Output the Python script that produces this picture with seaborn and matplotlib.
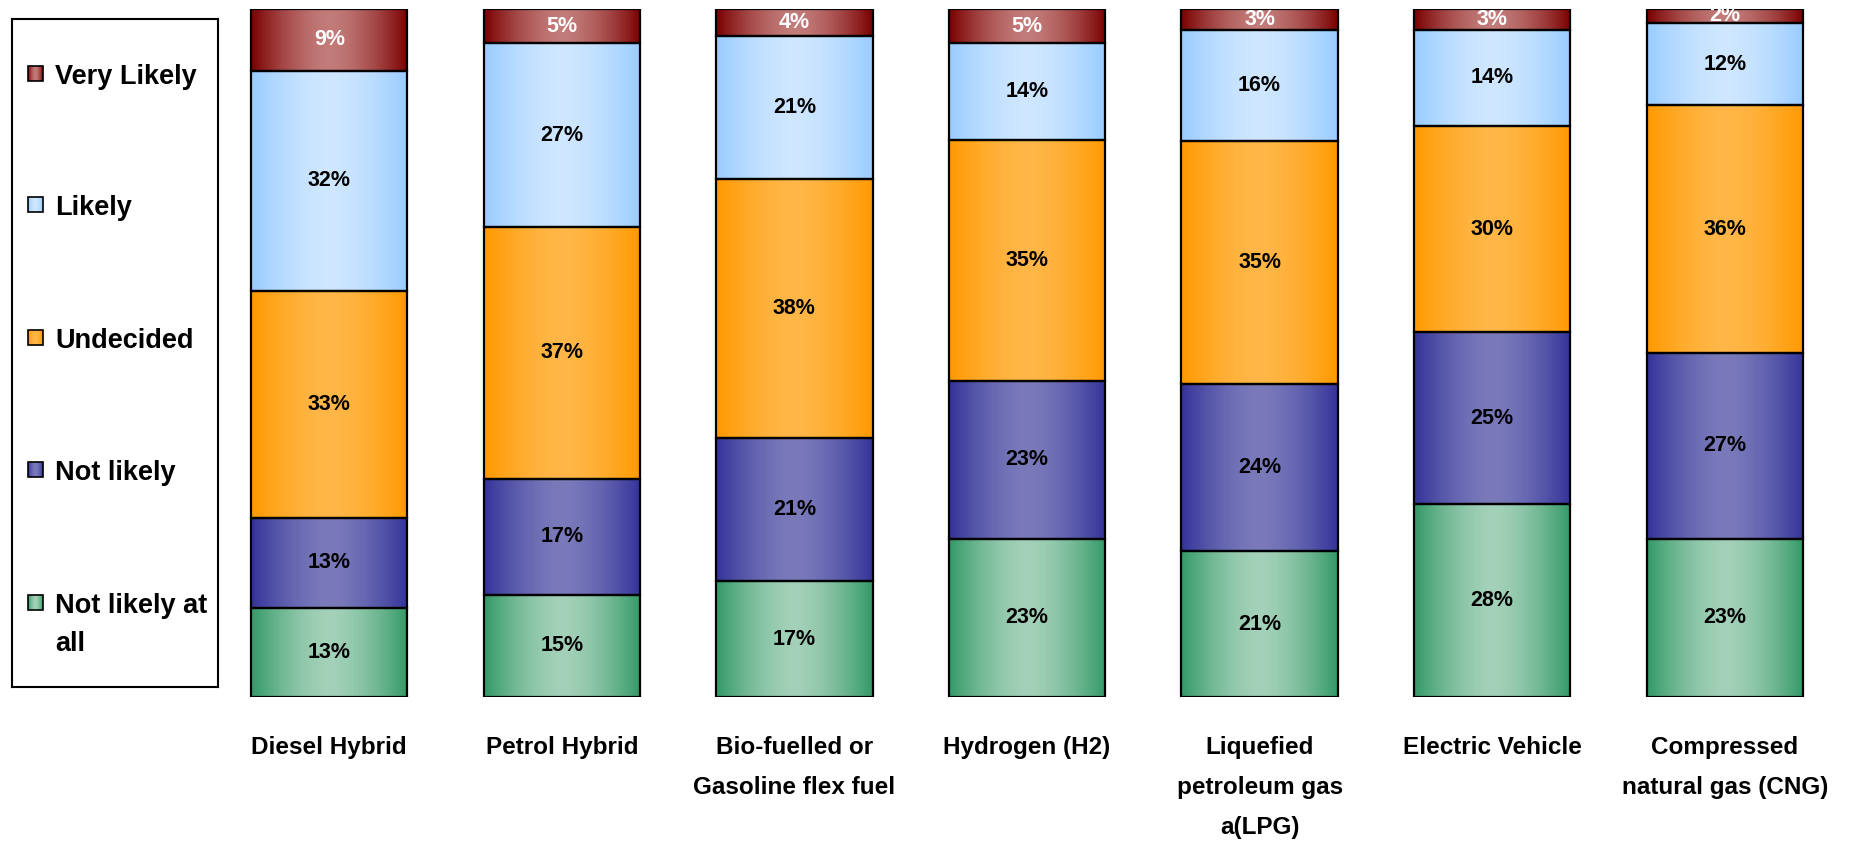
import numpy as np
import pandas as pd
import matplotlib
matplotlib.use("Agg")
import matplotlib.pyplot as plt
import seaborn as sns
from matplotlib.colors import to_rgb
from matplotlib.patches import Rectangle

# Survey data: share of respondents per fuel technology (%)
categories = [
    "Diesel Hybrid",
    "Petrol Hybrid",
    "Bio-fuelled or\nGasoline flex fuel",
    "Hydrogen (H2)",
    "Liquefied\npetroleum gas\na(LPG)",
    "Electric Vehicle",
    "Compressed\nnatural gas (CNG)",
]
not_likely_at_all = [13, 15, 17, 23, 21, 28, 23]
not_likely = [13, 17, 21, 23, 24, 25, 27]
undecided = [33, 37, 38, 35, 35, 30, 36]
likely = [32, 27, 21, 14, 16, 14, 12]
very_likely = [9, 5, 4, 5, 3, 3, 2]

series_names = ["Not likely at all", "Not likely", "Undecided", "Likely", "Very Likely"]
series_values = [not_likely_at_all, not_likely, undecided, likely, very_likely]

# (edge colour, centre highlight) for the horizontal shading of each series
series_shades = {
    "Not likely at all": ("#339966", "#a3d1b9"),
    "Not likely": ("#333399", "#7a7abb"),
    "Undecided": ("#ff9900", "#ffb748"),
    "Likely": ("#99ccff", "#cfe7ff"),
    "Very Likely": ("#7a0000", "#c27c7a"),
}
label_colors = {"Very Likely": "white"}

sns.set_style("white")
plt.rcParams["font.family"] = ["Liberation Sans", "DejaVu Sans"]
plt.rcParams["text.color"] = "black"
plt.rcParams["xtick.color"] = "black"

W, H = 1851, 843
fig = plt.figure(figsize=(W / 100, H / 100), dpi=100)

# main plotting area (pixel geometry converted to figure fractions)
ax_left, ax_right, ax_top, ax_bottom = 213, 1841, 9, 697
ax = fig.add_axes([ax_left / W, 1 - ax_bottom / H, (ax_right - ax_left) / W, (ax_bottom - ax_top) / H])

data = pd.DataFrame({name: vals for name, vals in zip(series_names, series_values)}, index=categories)
totals = data.sum(axis=1)
shares = data.div(totals, axis=0) * 100  # 100% stacked

def shade(edge, centre, n=256):
    t = np.linspace(0, 1, n)
    w = np.clip(1 - np.abs((t - 0.5) / 0.5) ** 1.6, 0, 1)
    e = np.array(to_rgb(edge))
    c = np.array(to_rgb(centre))
    return (e[None, :] * (1 - w[:, None]) + c[None, :] * w[:, None])[None, :, :]

bottom = np.zeros(len(categories))
for name in series_names:
    heights = shares[name].to_numpy()
    n_before = len(ax.patches)
    sns.barplot(x=categories, y=heights, bottom=bottom, order=categories,
                color=series_shades[name][0], saturation=1, width=0.672,
                edgecolor="black", linewidth=1.6, errorbar=None, ax=ax)
    new_patches = ax.patches[n_before:]
    grad = shade(*series_shades[name])
    for i, p in enumerate(new_patches):
        x0, y0 = p.get_x(), p.get_y()
        w, h = p.get_width(), p.get_height()
        p.set_facecolor("none")
        p.set_zorder(3)
        im = ax.imshow(grad, extent=[x0, x0 + w, y0, y0 + h], aspect="auto",
                       interpolation="bilinear", zorder=2)
        im.set_clip_path(p)
        ax.text(x0 + w / 2, y0 + h / 2, f"{int(data[name].iloc[i])}%",
                ha="center", va="center", fontsize=15.5, fontweight="bold",
                color=label_colors.get(name, "black"), zorder=5)
    bottom = bottom + heights

ax.set_xlim(-0.5, len(categories) - 0.5)
ax.set_ylim(0, 100)
ax.set_yticks([])
ax.set_xticks(range(len(categories)))
ax.set_xticklabels(categories, fontsize=17.5, fontweight="bold", linespacing=1.95, color="black")
ax.tick_params(axis="x", length=0, pad=28)
for s in ax.spines.values():
    s.set_visible(False)
ax.set_xlabel("")
ax.set_ylabel("")

# legend panel
lg_left, lg_right, lg_top, lg_bottom = 12, 218, 19, 687
lax = fig.add_axes([lg_left / W, 1 - lg_bottom / H, (lg_right - lg_left) / W, (lg_bottom - lg_top) / H])
lax.set_xlim(0, lg_right - lg_left)
lax.set_ylim(lg_bottom - lg_top, 0)
lax.set_xticks([])
lax.set_yticks([])
for s in lax.spines.values():
    s.set_visible(True)
    s.set_color("black")
    s.set_linewidth(1.5)

legend_rows = {"Very Likely": 55, "Likely": 186, "Undecided": 319, "Not likely": 451, "Not likely at all": 584}
legend_text = {"Not likely at all": "Not likely at\nall"}
for name in reversed(series_names):
    y = legend_rows[name]
    sq = Rectangle((16, y - 8), 15, 15, facecolor="none", edgecolor="black", linewidth=1.2, zorder=3)
    lax.add_patch(sq)
    im = lax.imshow(shade(*series_shades[name]), extent=[16, 31, y + 7, y - 8], aspect="auto", zorder=2)
    im.set_clip_path(sq)
    lines = legend_text.get(name, name).split("\n")
    for k, line in enumerate(lines):
        lax.text(43, y + 38 * k, line, ha="left", va="center_baseline",
                 fontsize=19.5, fontweight="bold")
lax.set_xlim(0, lg_right - lg_left)
lax.set_ylim(lg_bottom - lg_top, 0)

fig.savefig("out.png", dpi=100)
